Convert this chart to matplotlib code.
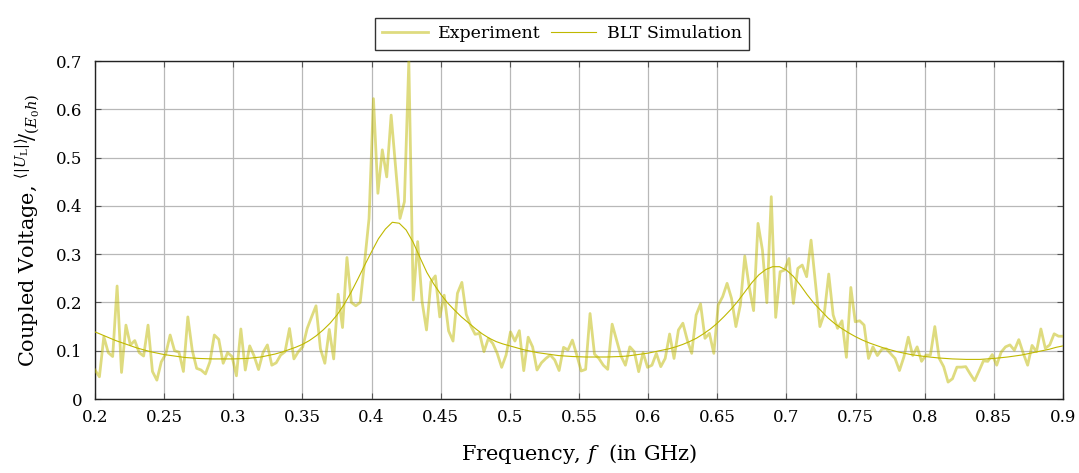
import numpy as np
import matplotlib
matplotlib.use("Agg")
import matplotlib.pyplot as plt

# Experiment (220 equally spaced samples between 0.2 and 0.9 GHz)
f_min, f_max = 0.2, 0.9
experiment = [
    0.060, 0.046, 0.129, 0.096, 0.088, 0.234, 0.055, 0.153, 0.112, 0.121,
    0.096, 0.089, 0.153, 0.057, 0.039, 0.077, 0.093, 0.1325, 0.100, 0.097,
    0.057, 0.170, 0.101, 0.0635, 0.060, 0.052, 0.077, 0.1325, 0.1235, 0.074,
    0.096, 0.088, 0.048, 0.145, 0.060, 0.110, 0.089, 0.061, 0.096, 0.112,
    0.070, 0.075, 0.091, 0.098, 0.146, 0.083, 0.098, 0.108, 0.146, 0.170,
    0.193, 0.104, 0.074, 0.144, 0.083, 0.217, 0.148, 0.293, 0.200, 0.193,
    0.200, 0.284, 0.374, 0.622, 0.426, 0.516, 0.460, 0.588, 0.481, 0.374,
    0.4085, 0.700, 0.205, 0.326, 0.2015, 0.143, 0.243, 0.255, 0.170, 0.215,
    0.141, 0.120, 0.219, 0.2415, 0.175, 0.152, 0.134, 0.136, 0.098, 0.1256,
    0.115, 0.0945, 0.0656, 0.091, 0.139, 0.120, 0.1415, 0.0587, 0.128, 0.108,
    0.060, 0.075, 0.084, 0.091, 0.081, 0.059, 0.107, 0.1015, 0.122, 0.091,
    0.058, 0.0614, 0.177, 0.093, 0.084, 0.070, 0.0614, 0.155, 0.122, 0.089,
    0.070, 0.108, 0.098, 0.0566, 0.096, 0.0656, 0.070, 0.0945, 0.067, 0.084,
    0.1346, 0.084, 0.143, 0.157, 0.122, 0.0945, 0.174, 0.197, 0.1256, 0.136,
    0.0945, 0.1946, 0.212, 0.2395, 0.2084, 0.150, 0.1946, 0.296, 0.2326, 0.183,
    0.3637, 0.3085, 0.1995, 0.419, 0.169, 0.2636, 0.267, 0.291, 0.198, 0.2705,
    0.2774, 0.2533, 0.329, 0.2395, 0.150, 0.1774, 0.2588, 0.174, 0.1463, 0.162,
    0.0863, 0.231, 0.160, 0.162, 0.153, 0.084, 0.108, 0.090, 0.103, 0.104,
    0.094, 0.084, 0.059, 0.087, 0.128, 0.090, 0.108, 0.078, 0.091, 0.091,
    0.150, 0.084, 0.067, 0.035, 0.042, 0.066, 0.066, 0.067, 0.052, 0.038,
    0.058, 0.079, 0.078, 0.092, 0.070, 0.097, 0.108, 0.112, 0.101, 0.123,
    0.095, 0.070, 0.111, 0.098, 0.145, 0.105, 0.112, 0.135, 0.130, 0.130,
]

# BLT simulation (141 equally spaced samples between 0.2 and 0.9 GHz)
simulation = [
    0.139, 0.133, 0.127, 0.121, 0.116, 0.111, 0.106, 0.102, 0.098, 0.095,
    0.092, 0.090, 0.088, 0.086, 0.085, 0.084, 0.0835, 0.083, 0.083, 0.083,
    0.083, 0.0835, 0.084, 0.0855, 0.087, 0.090, 0.093, 0.097, 0.102, 0.107,
    0.113, 0.121, 0.131, 0.143, 0.157, 0.174, 0.195, 0.220, 0.248, 0.277,
    0.305, 0.332, 0.352, 0.366, 0.364, 0.350, 0.325, 0.293, 0.262, 0.238,
    0.217, 0.199, 0.184, 0.170, 0.158, 0.146, 0.135, 0.126, 0.119, 0.114,
    0.110, 0.106, 0.102, 0.099, 0.096, 0.094, 0.092, 0.090, 0.089, 0.088,
    0.0875, 0.087, 0.087, 0.087, 0.087, 0.0875, 0.088, 0.089, 0.091, 0.093,
    0.095, 0.098, 0.101, 0.104, 0.108, 0.113, 0.119, 0.126, 0.135, 0.145,
    0.157, 0.171, 0.186, 0.203, 0.222, 0.241, 0.257, 0.268, 0.274, 0.274,
    0.267, 0.254, 0.236, 0.216, 0.198, 0.183, 0.168, 0.156, 0.146, 0.137,
    0.129, 0.122, 0.116, 0.111, 0.106, 0.102, 0.098, 0.095, 0.092, 0.090,
    0.088, 0.0865, 0.085, 0.084, 0.083, 0.0825, 0.082, 0.082, 0.082, 0.083,
    0.084, 0.0855, 0.087, 0.089, 0.091, 0.094, 0.097, 0.100, 0.103, 0.107,
    0.110,
]

x_ticks = [0.2, 0.25, 0.3, 0.35, 0.4, 0.45, 0.5, 0.55, 0.6, 0.65, 0.7, 0.75, 0.8, 0.85, 0.9]
y_ticks = [0, 0.1, 0.2, 0.3, 0.4, 0.5, 0.6, 0.7]

f_exp = np.linspace(f_min, f_max, len(experiment))
f_sim = np.linspace(f_min, f_max, len(simulation))

plt.rcParams['font.family'] = ['DejaVu Serif']
plt.rcParams['mathtext.fontset'] = 'dejavuserif'

fig = plt.figure(figsize=(10.79, 4.73), dpi=100)
ax = fig.add_axes([95 / 1079, 1 - 399 / 473, (1063 - 95) / 1079, (399 - 61) / 473])

olive = '#bfb800'
ax.plot(f_exp, experiment, color=olive, alpha=0.5, lw=2.0, label='Experiment', zorder=3)
ax.plot(f_sim, simulation, color=olive, lw=0.8, label='BLT Simulation', zorder=4)

ax.set_xlim(f_min, f_max)
ax.set_ylim(0, 0.7)
ax.set_xticks(x_ticks)
ax.set_xticklabels([('%g' % t) for t in x_ticks])
ax.set_yticks(y_ticks)
ax.set_yticklabels([('%g' % t) for t in y_ticks])
ax.tick_params(direction='in', length=4, width=0.8, labelsize=12, top=True, right=True,
               color='#555555')
ax.tick_params(axis='x', pad=7)
ax.tick_params(axis='y', pad=9)
ax.grid(True, color='#b8b8b8', lw=0.9)
ax.set_axisbelow(True)
for s in ax.spines.values():
    s.set_linewidth(1.0)
    s.set_color('#222222')

ax.set_xlabel(r'Frequency, $f$  (in GHz)', fontsize=15, labelpad=12)
ax.set_ylabel(r'Coupled Voltage, $^{\langle|U_\mathrm{L}|\rangle}\!/_{(E_0 h)}$', fontsize=15, labelpad=10)

leg = fig.legend(loc='upper center', bbox_to_anchor=(562 / 1079, 1 - 9 / 473), ncol=2,
                 fontsize=12.5, frameon=True, fancybox=False, edgecolor='#333333',
                 handlelength=2.6, columnspacing=0.6, handletextpad=0.6,
                 borderpad=0.45, framealpha=1)
leg.get_frame().set_linewidth(1.0)

fig.savefig('out.png', dpi=100)
